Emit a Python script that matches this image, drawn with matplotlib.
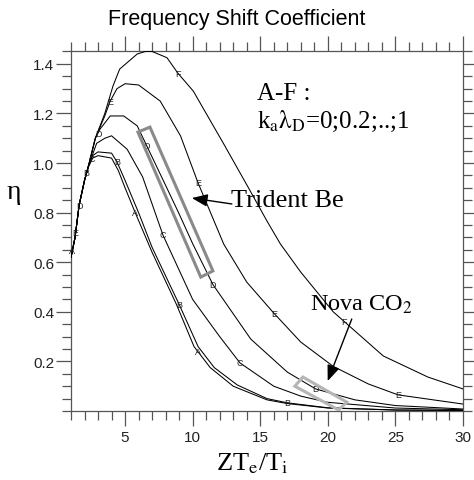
import matplotlib
matplotlib.use("Agg")
import matplotlib.pyplot as plt
from matplotlib.patches import Polygon
from matplotlib.ticker import MultipleLocator
import numpy as np

# ── Data ──────────────────────────────────────────────────────────────────────
curve_names = ["A", "B", "C", "D", "E", "F"]

x_A = [1.0, 1.3, 1.6, 2.0, 2.3, 2.6, 3.0, 4.0, 4.5, 5.0, 5.75, 7.0, 8.8, 10.1, 11.3, 13.0, 15.5, 17.0, 20.0, 25.0, 30.0]
y_A = [0.62, 0.70, 0.83, 0.93, 0.985, 1.02, 1.03, 1.02, 0.97, 0.90, 0.80, 0.64, 0.43, 0.26, 0.175, 0.10, 0.045, 0.03, 0.012, 0.004, 0.002]

x_B = [1.0, 1.3, 1.6, 2.0, 2.3, 2.6, 3.0, 4.0, 4.4, 5.0, 6.0, 7.0, 9.0, 10.4, 11.6, 13.3, 15.5, 17.0, 20.0, 25.0, 30.0]
y_B = [0.62, 0.70, 0.83, 0.93, 0.99, 1.03, 1.045, 1.04, 1.005, 0.93, 0.80, 0.66, 0.43, 0.26, 0.175, 0.105, 0.05, 0.033, 0.013, 0.004, 0.002]

x_C = [1.0, 1.3, 1.6, 2.0, 2.3, 2.9, 3.5, 4.0, 5.15, 6.3, 7.8, 10.0, 12.0, 13.5, 16.0, 18.0, 20.0, 25.0, 30.0]
y_C = [0.62, 0.70, 0.83, 0.93, 0.99, 1.08, 1.10, 1.11, 1.056, 0.944, 0.71, 0.45, 0.30, 0.194, 0.10, 0.06, 0.035, 0.012, 0.005]

x_D = [1.0, 1.3, 1.6, 2.0, 2.3, 2.8, 3.15, 3.9, 4.9, 5.9, 6.6, 8.0, 9.0, 10.0, 11.5, 14.3, 17.0, 19.1, 22.0, 25.0, 30.0]
y_D = [0.62, 0.70, 0.83, 0.93, 0.99, 1.10, 1.137, 1.19, 1.19, 1.15, 1.07, 0.91, 0.795, 0.675, 0.51, 0.29, 0.157, 0.089, 0.045, 0.022, 0.008]

x_E = [1.0, 1.3, 1.6, 2.0, 2.3, 2.8, 3.5, 3.9, 4.4, 5.0, 6.0, 7.6, 9.1, 10.4, 12.3, 14.0, 16.0, 18.0, 20.4, 23.0, 25.2, 30.0]
y_E = [0.62, 0.70, 0.83, 0.93, 0.99, 1.10, 1.19, 1.25, 1.30, 1.32, 1.315, 1.25, 1.11, 0.92, 0.673, 0.52, 0.395, 0.278, 0.18, 0.109, 0.065, 0.028]

x_F = [1.0, 1.3, 1.6, 2.0, 2.3, 2.8, 3.5, 4.1, 4.6, 5.9, 6.5, 7.0, 8.1, 8.9, 10.05, 12.3, 14.1, 15.5, 16.5, 18.0, 20.4, 24.1, 27.4, 30.0]
y_F = [0.62, 0.70, 0.83, 0.93, 0.99, 1.10, 1.20, 1.31, 1.379, 1.44, 1.45, 1.45, 1.425, 1.363, 1.29, 1.077, 0.903, 0.766, 0.673, 0.56, 0.40, 0.222, 0.137, 0.089]

# where the small curve letters sit (x positions along each curve)
label_x = {
    "A": [1.1, 5.75, 10.4],
    "B": [2.15, 4.4, 9.0, 17.0],
    "C": [2.5, 7.8, 13.5],
    "D": [1.6, 3.0, 6.6, 11.5, 19.1],
    "E": [1.35, 3.9, 10.4, 16.0, 25.2],
    "F": [8.9, 21.2],
}

# highlighted regions and their arrows
trident_box_x = [5.95, 6.84, 11.5, 10.6]
trident_box_y = [1.125, 1.145, 0.565, 0.54]
nova_box_x = [17.56, 18.15, 21.4, 20.8]
nova_box_y = [0.10, 0.137, 0.036, 0.004]

trident_arrow = ((12.9, 0.835), (9.94, 0.859))   # (tail, tip)
nova_arrow = ((21.77, 0.371), (19.99, 0.121))

xs = {"A": x_A, "B": x_B, "C": x_C, "D": x_D, "E": x_E, "F": x_F}
ys = {"A": y_A, "B": y_B, "C": y_C, "D": y_D, "E": y_E, "F": y_F}

# ── Style ─────────────────────────────────────────────────────────────────────
plt.rcParams["mathtext.fontset"] = "stix"
SANS = "Liberation Sans"
SERIF = "Liberation Serif"
AXIS = "#555555"

fig = plt.figure(figsize=(4.74, 4.81), dpi=100)
ax = fig.add_axes([71 / 474, 1 - 412 / 481, (463 - 71) / 474, (412 - 52) / 481])

for name in curve_names:
    ax.plot(xs[name], ys[name], color="black", linewidth=0.75, zorder=3)
    for lx in label_x[name]:
        ly = np.interp(lx, xs[name], ys[name])
        ax.text(lx, ly, name, fontsize=6.5, family=SANS, color="#222222",
                ha="center", va="center", zorder=4)

# Boxes around the experimental regions
ax.add_patch(Polygon(list(zip(trident_box_x, trident_box_y)), closed=True,
                     fill=False, edgecolor="#8a8a8a", linewidth=2.2, zorder=5))
ax.add_patch(Polygon(list(zip(nova_box_x, nova_box_y)), closed=True,
                     fill=False, edgecolor="#b5b5b5", linewidth=2.2, zorder=5))

arrow_style = dict(arrowstyle="-|>,head_length=0.95,head_width=0.38",
                   color="black", lw=1.0, shrinkA=0, shrinkB=0, mutation_scale=10)
ax.annotate("", xy=trident_arrow[1], xytext=trident_arrow[0], arrowprops=arrow_style, zorder=6)
ax.annotate("", xy=nova_arrow[1], xytext=nova_arrow[0], arrowprops=arrow_style, zorder=6)

ax.text(12.8, 0.827, "Trident Be", family=SERIF, fontsize=19, va="baseline", ha="left")
ax.text(18.7, 0.41, r"Nova CO$_\mathrm{2}$", family=SERIF, fontsize=17.5, va="baseline", ha="left")
ax.text(14.75, 1.258, "A-F :", family=SERIF, fontsize=18, va="baseline", ha="left")
ax.text(14.75, 1.145, r"k$_\mathrm{a}$$\mathrm{\lambda}_\mathrm{D}$=0;0.2;..;1",
        family=SERIF, fontsize=18, va="baseline", ha="left")

# ── Axes formatting ───────────────────────────────────────────────────────────
ax.set_xlim(1, 30)
ax.set_ylim(0, 1.452)
ax.xaxis.set_major_locator(MultipleLocator(5))
ax.xaxis.set_minor_locator(MultipleLocator(1))
ax.yaxis.set_major_locator(MultipleLocator(0.2))
ax.yaxis.set_minor_locator(MultipleLocator(0.05))
ax.set_xticks([5, 10, 15, 20, 25, 30])
ax.set_yticks([0.2, 0.4, 0.6, 0.8, 1.0, 1.2, 1.4])
ax.set_yticklabels(["0.2", "0.4", "0.6", "0.8", "1.0", "1.2", "1.4"])

ax.tick_params(which="both", direction="out", top=True, right=True,
               color=AXIS, width=0.9, labelsize=11, labelcolor="#222222")
ax.tick_params(which="major", length=10.5)
ax.tick_params(which="minor", length=6.5)
ax.tick_params(axis="x", pad=3)
ax.tick_params(axis="y", pad=1.5)
for lbl in ax.get_xticklabels() + ax.get_yticklabels():
    lbl.set_family(SANS)
for spine in ax.spines.values():
    spine.set_edgecolor(AXIS)
    spine.set_linewidth(0.9)

fig.text(0.5, 1 - 19 / 481, "Frequency Shift Coefficient", family=SANS,
         fontsize=15.5, ha="center", va="center")
fig.text(14 / 474, 1 - 193 / 481, "η", family=SERIF, fontsize=20, ha="center", va="center")
fig.text(252 / 474, 1 - 470 / 481, r"ZT$_\mathrm{e}$/T$_\mathrm{i}$", family=SERIF,
         fontsize=19, ha="center", va="baseline")

fig.savefig("out.png", dpi=100, facecolor="white")
plt.close(fig)
